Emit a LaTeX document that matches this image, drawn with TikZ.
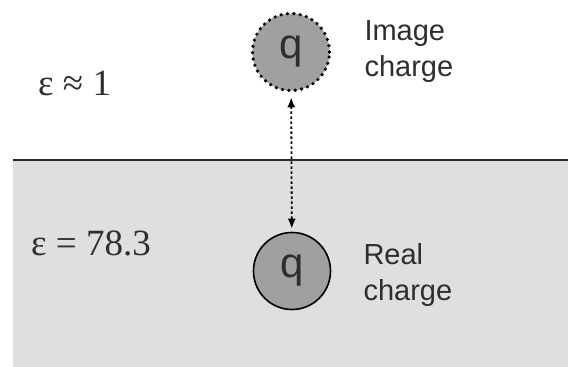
\documentclass[tikz,border=0pt]{standalone}
\usepackage{fontspec}
\setmainfont{Liberation Sans}
\newfontfamily\epsfont{Liberation Serif}
\usetikzlibrary{arrows.meta,positioning}
\definecolor{waterfill}{HTML}{DFDFDF}
\definecolor{chargefill}{HTML}{A0A0A0}
\definecolor{surfaceline}{HTML}{2A2A2A}
\definecolor{labeltext}{HTML}{2E2E2E}

\tikzset{
  charge/.style={circle, fill=chargefill, minimum size=77pt, inner sep=0pt,
    font=\fontsize{42}{42}\selectfont, text=labeltext},
  chargelabel/.style={align=left, inner sep=0pt, font=\fontsize{29}{36}\selectfont, text=labeltext},
  epslabel/.style={anchor=base west, inner sep=0pt, font=\epsfont\fontsize{37}{37}\selectfont, text=labeltext}
}

\begin{document}
\begin{tikzpicture}[x=1pt, y=1pt]
\useasboundingbox (0,0) rectangle (568,-367);
% water below the surface
\fill[waterfill] (13,-160) rectangle (568,-367);
\draw[surfaceline, line width=1.3pt] (13,-160) -- (568,-160);

\node[epslabel] (epsair) at (38,-95) {ε ≈ 1};
\node[epslabel] (epswater) at (31,-255) {ε = 78.3};

% charges
\node[charge, draw, line width=3.6pt, line cap=round, dash pattern=on 0pt off 6.4pt] (image) at (291,-52) {q};
\node[charge, draw, line width=1.6pt] (real) at (292,-271) {q};

\node[chargelabel, right=33pt of image] (imagetext) {Image\\charge};
\node[chargelabel, right=32pt of real, yshift=-4pt] (realtext) {Real\\charge};

\draw[line width=1.8pt, dash pattern=on 2.5pt off 2.5pt, {Latex[length=10pt,width=8pt]}-{Latex[length=10pt,width=8pt]},
  shorten <=5pt, shorten >=3pt] (image) -- (real);
\end{tikzpicture}
\end{document}
